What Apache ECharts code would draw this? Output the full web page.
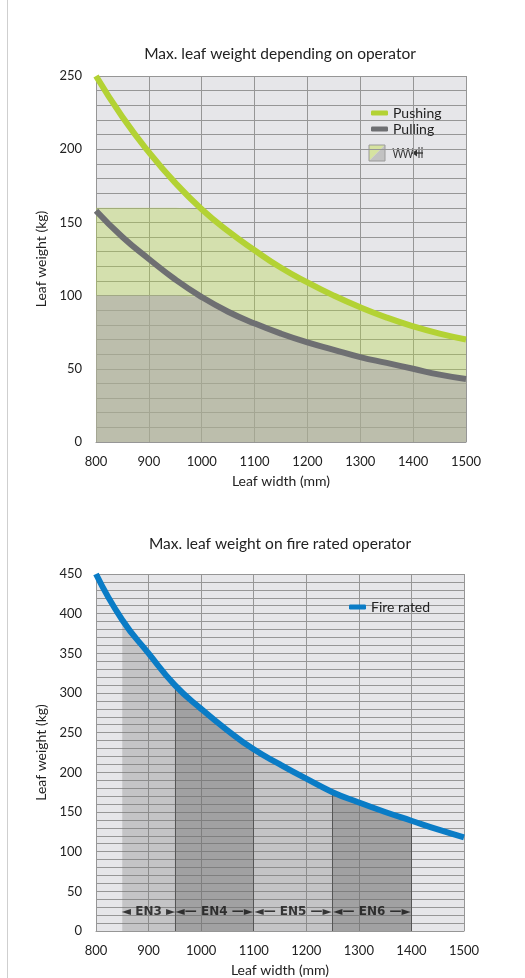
<!DOCTYPE html>
<html>
<head>
<meta charset="utf-8">
<script src="https://cdn.jsdelivr.net/npm/echarts@6/dist/echarts.min.js"></script>
<style>
html,body{margin:0;padding:0;background:#fff;}
#c{width:525px;height:978px;}
</style>
</head>
<body>
<div id="c"></div>
<script>
// ---- data ----
const widths    = [800, 850, 900, 950, 1000, 1050, 1100, 1150, 1200, 1250, 1300, 1350, 1400, 1450, 1500];
const pushing   = [250, 222, 198, 177, 159, 144, 131, 119, 109, 100, 92, 85, 79, 74, 70];
const pulling   = [158, 140, 125, 111, 99, 89, 81, 74, 68, 63, 58, 54, 50, 46, 43];
const fireRated = [450, 392, 350, 310, 280, 253, 229, 210, 192, 175, 162, 150, 139, 128, 118];
const pushCap = 160;
const pullCap = 100;
const enBounds = [850, 950, 1100, 1250, 1400];
const enLabels = ['◄ EN3 ►', '◄— EN4 —►', '◄— EN5 —►', '◄— EN6 —►'];
const enLabelY = 24;
const yGridStep = 10;
const yLabelStep = 50;

const FONT = 'Lato';
const chart = echarts.init(document.getElementById('c'), null, {renderer: 'canvas'});

const gridLine = {color: '#969696', width: 1};
function xAx(gi) {
  return {
    type: 'value', gridIndex: gi, min: 800, max: 1500, interval: 100,
    name: 'Leaf width (mm)', nameLocation: 'middle', nameGap: 32,
    nameTextStyle: {fontFamily: FONT, fontSize: 14, color: '#222'},
    axisLine: {show: true, lineStyle: {color: '#969696'}},
    axisTick: {show: false},
    axisLabel: {fontFamily: FONT, fontSize: 13, color: '#222', margin: 13, formatter: v => String(v)},
    splitLine: {show: true, lineStyle: gridLine}
  };
}
function yAx(gi, max) {
  return {
    type: 'value', gridIndex: gi, min: 0, max: max, interval: yGridStep,
    name: 'Leaf weight (kg)', nameLocation: 'middle', nameGap: 45,
    nameTextStyle: {fontFamily: FONT, fontSize: 14, color: '#222'},
    axisLine: {show: false}, axisTick: {show: false},
    axisLabel: {fontFamily: FONT, fontSize: 13, color: '#222', margin: 14,
                formatter: v => (v % yLabelStep === 0 ? String(v) : '')},
    splitLine: {show: true, lineStyle: gridLine}
  };
}

const pts = arr => widths.map((w, i) => [w, arr[i]]);
const fireAt = w => fireRated[widths.indexOf(w)];

const shadeSeries = enLabels.map((lab, k) => ({
  type: 'line', xAxisIndex: 1, yAxisIndex: 1, silent: true,
  showSymbol: false, smooth: true,
  lineStyle: {width: 0},
  areaStyle: {color: k % 2 === 0 ? 'rgba(120,120,120,0.30)' : 'rgba(110,110,110,0.58)', opacity: 1},
  data: widths.filter(w => w >= enBounds[k] && w <= enBounds[k + 1]).map(w => [w, fireAt(w)]),
  z: 1
}));

const option = {
  animation: false,
  textStyle: {fontFamily: FONT},
  title: [
    {text: 'Max. leaf weight depending on operator', left: 275, top: 41, textAlign: 'center',
     textStyle: {fontFamily: FONT, fontSize: 15.5, fontWeight: 'normal', color: '#222'}},
    {text: 'Max. leaf weight on fire rated operator', left: 275, top: 531, textAlign: 'center',
     textStyle: {fontFamily: FONT, fontSize: 15.5, fontWeight: 'normal', color: '#222'}}
  ],
  grid: [
    {left: 96, top: 76, width: 370, height: 366, show: true, backgroundColor: '#e6e6e9', borderWidth: 0},
    {left: 96, top: 574, width: 368, height: 357, show: true, backgroundColor: '#e6e6e9', borderWidth: 0}
  ],
  xAxis: [xAx(0), xAx(1)],
  yAxis: [yAx(0, 250), yAx(1, 450)],
  legend: [
    {data: ['Pushing', 'Pulling'], orient: 'vertical', left: 366, top: 101, itemGap: 2,
     icon: 'roundRect', itemWidth: 17, itemHeight: 5,
     textStyle: {fontFamily: FONT, fontSize: 14, color: '#222'}},
    {data: ['Fire rated'], orient: 'vertical', left: 344, top: 595,
     icon: 'roundRect', itemWidth: 17, itemHeight: 5,
     textStyle: {fontFamily: FONT, fontSize: 14, color: '#222'}}
  ],
  graphic: [
    {type: 'line', shape: {x1: 7.5, y1: 0, x2: 7.5, y2: 978}, style: {stroke: '#cfcfcf', lineWidth: 1}},
    {type: 'polygon', shape: {points: [[369, 145], [385, 145], [369, 161]]}, style: {fill: '#d6e3a0'}},
    {type: 'polygon', shape: {points: [[385, 145], [385, 161], [369, 161]]}, style: {fill: '#c2c2c2'}},
    {type: 'rect', shape: {x: 369, y: 145, width: 16, height: 16}, style: {fill: 'none', stroke: '#9a9a9a', lineWidth: 1}},
    {type: 'polyline', shape: {points: [[393, 148], [395.5, 158], [398, 148], [400.5, 158], [403, 148], [405.5, 158], [408, 148], [410.5, 158], [413, 148]]},
     style: {stroke: '#333', lineWidth: 1, fill: 'none'}},
    {type: 'polyline', shape: {points: [[412, 153], [423, 153]]}, style: {stroke: '#333', lineWidth: 1.3}},
    {type: 'polygon', shape: {points: [[412, 153], [417, 149.5], [417, 156.5]]}, style: {fill: '#333'}},
    {type: 'polyline', shape: {points: [[419, 147], [419, 158]]}, style: {stroke: '#333', lineWidth: 1}},
    {type: 'polyline', shape: {points: [[422, 147], [422, 158]]}, style: {stroke: '#333', lineWidth: 1}}
  ],
  series: [
    {type: 'line', xAxisIndex: 0, yAxisIndex: 0, silent: true, showSymbol: false,
     lineStyle: {width: 0}, areaStyle: {color: 'rgba(181,213,70,0.36)', opacity: 1},
     data: widths.map((w, i) => [w, Math.min(pushCap, pushing[i])]), z: 1},
    {type: 'line', xAxisIndex: 0, yAxisIndex: 0, silent: true, showSymbol: false,
     lineStyle: {width: 0}, areaStyle: {color: 'rgba(166,160,170,0.52)', opacity: 1},
     data: widths.map((w, i) => [w, Math.min(pullCap, pulling[i])]), z: 1},
    {name: 'Pushing', type: 'line', xAxisIndex: 0, yAxisIndex: 0, smooth: true, showSymbol: false,
     color: '#b3d234', lineStyle: {width: 6, color: '#b3d234'}, data: pts(pushing), z: 5},
    {name: 'Pulling', type: 'line', xAxisIndex: 0, yAxisIndex: 0, smooth: true, showSymbol: false,
     color: '#6e6f72', lineStyle: {width: 6, color: '#6e6f72'}, data: pts(pulling), z: 5},
    ...shadeSeries,
    {type: 'scatter', xAxisIndex: 1, yAxisIndex: 1, silent: true, symbolSize: 0, z: 6,
     data: enLabels.map((lab, k) => ({value: [(enBounds[k] + enBounds[k + 1]) / 2, enLabelY], name: lab})),
     label: {show: true, position: 'inside', formatter: p => p.name,
             fontFamily: 'DejaVu Sans', fontSize: 12, fontWeight: 'bold', color: '#111'}},
    {name: 'Fire rated', type: 'line', xAxisIndex: 1, yAxisIndex: 1, smooth: true, showSymbol: false,
     color: '#0a7cc6', lineStyle: {width: 6, color: '#0a7cc6'}, data: pts(fireRated), z: 5,
     markLine: {silent: true, symbol: 'none', label: {show: false},
       lineStyle: {color: '#555', width: 1, type: 'solid'},
       data: enBounds.slice(1).map(b => [{coord: [b, 0]}, {coord: [b, fireAt(b)]}])}}
  ]
};
chart.setOption(option);
</script>
</body>
</html>
